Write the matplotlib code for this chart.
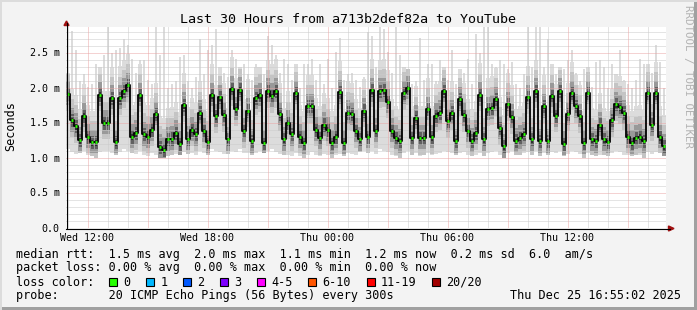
import numpy as np
import matplotlib.pyplot as plt
from matplotlib.patches import Rectangle, Polygon
from matplotlib.lines import Line2D

W, H = 697, 310

# median rtt in ms, one value per 12 min slot, Wed 10:55 -> Thu 16:55
median_ms = [
    1.91, 1.53, 1.45, 1.25, 1.60, 1.30, 1.22, 1.22, 1.90, 1.50,
    1.50, 1.85, 1.22, 1.85, 1.95, 2.03, 1.30, 1.35, 1.89, 1.33,
    1.30, 1.40, 1.62, 1.15, 1.11, 1.26, 1.27, 1.35, 1.20, 1.75,
    1.27, 1.40, 1.33, 1.64, 1.38, 1.22, 1.89, 1.59, 1.86, 1.61,
    1.26, 1.98, 1.69, 1.97, 1.38, 1.67, 1.23, 1.85, 1.89, 1.21,
    1.95, 1.88, 1.95, 1.62, 1.26, 1.50, 1.33, 1.92, 1.30, 1.21,
    1.73, 1.73, 1.40, 1.28, 1.47, 1.40, 1.21, 1.30, 1.93, 1.21,
    1.64, 1.62, 1.38, 1.26, 1.67, 1.30, 1.96, 1.38, 1.95, 1.96,
    1.80, 1.38, 1.28, 1.23, 1.92, 1.99, 1.28, 1.57, 1.28, 1.28,
    1.69, 1.29, 1.60, 1.64, 1.95, 1.52, 1.64, 1.23, 1.83, 1.61,
    1.38, 1.24, 1.35, 1.90, 1.26, 1.69, 1.71, 1.83, 1.42, 1.16,
    1.76, 1.58, 1.24, 1.28, 1.33, 1.86, 1.26, 1.95, 1.23, 1.73,
    1.23, 1.88, 1.60, 1.95, 1.20, 1.62, 1.92, 1.73, 1.59, 1.21,
    1.92, 1.26, 1.23, 1.47, 1.26, 1.22, 1.53, 1.76, 1.72, 1.64,
    1.30, 1.21, 1.28, 1.30, 1.23, 1.92, 1.47, 1.92, 1.29, 1.16,
]

# slowest ping of each slot (top of the smoke)
smoke_top_ms = [
    2.20, 2.81, 2.54, 2.10, 2.20, 2.00, 2.05, 2.33, 2.30, 2.47,
    2.86, 2.50, 2.54, 2.56, 2.69, 2.61, 2.40, 2.20, 2.40, 2.40,
    2.10, 2.05, 2.86, 2.47, 2.86, 2.00, 2.05, 2.10, 2.43, 2.47,
    2.10, 2.00, 2.15, 2.69, 2.20, 2.54, 2.61, 2.83, 2.30, 2.20,
    2.15, 2.54, 2.40, 2.30, 2.33, 2.20, 2.10, 2.33, 2.30, 2.20,
    2.74, 2.61, 2.47, 2.20, 2.40, 2.33, 2.10, 2.33, 2.00, 2.33,
    2.33, 2.40, 2.10, 2.33, 2.05, 2.40, 2.00, 2.51, 2.71, 2.10,
    2.20, 2.20, 2.10, 2.00, 2.15, 2.79, 2.73, 2.30, 2.86, 2.83,
    2.50, 2.20, 2.86, 2.47, 2.30, 2.26, 2.05, 2.10, 2.71, 2.10,
    2.33, 2.33, 2.10, 2.40, 2.30, 2.10, 2.54, 2.05, 2.26, 2.20,
    2.40, 2.05, 2.76, 2.50, 2.86, 2.86, 2.33, 2.30, 2.40, 2.33,
    2.26, 2.37, 2.05, 2.00, 2.20, 2.86, 2.30, 2.86, 2.86, 2.30,
    2.69, 2.33, 2.20, 2.30, 2.26, 2.40, 2.54, 2.20, 2.10, 2.26,
    2.30, 2.00, 2.37, 2.40, 2.29, 2.00, 2.33, 2.20, 2.54, 2.10,
    2.05, 2.00, 2.10, 2.40, 2.33, 2.33, 2.20, 2.61, 2.37, 2.00,
]

# fastest ping of each slot (bottom of the smoke)
smoke_bot_ms = [
    1.12, 1.08, 1.05, 1.06, 1.10, 1.04, 1.02, 1.00, 1.08, 1.10,
    1.10, 1.06, 1.03, 1.08, 1.12, 1.10, 1.07, 1.05, 1.10, 1.04,
    1.02, 1.06, 1.04, 1.00, 1.00, 1.02, 1.04, 1.05, 1.04, 1.08,
    1.05, 1.06, 1.04, 1.10, 1.06, 1.04, 1.12, 1.10, 1.08, 1.05,
    1.05, 1.10, 1.08, 1.12, 1.07, 1.06, 1.03, 1.06, 1.10, 1.06,
    1.10, 1.12, 1.08, 1.05, 1.03, 1.04, 1.02, 1.06, 1.02, 1.00,
    1.04, 1.08, 1.03, 1.02, 1.05, 1.03, 1.00, 1.03, 1.05, 1.02,
    1.06, 1.05, 1.04, 1.08, 1.10, 1.06, 1.10, 1.05, 1.12, 1.10,
    1.08, 1.04, 1.02, 1.00, 1.06, 1.10, 1.04, 1.06, 1.02, 1.04,
    1.06, 1.04, 1.05, 1.06, 1.10, 1.08, 1.07, 1.04, 1.06, 1.08,
    1.03, 1.02, 1.04, 1.07, 1.02, 1.06, 1.08, 1.10, 1.04, 1.00,
    1.06, 1.10, 1.04, 1.03, 1.06, 1.08, 1.04, 1.10, 1.02, 1.06,
    1.03, 1.08, 1.06, 1.10, 1.02, 1.05, 1.10, 1.08, 1.05, 1.00,
    1.06, 1.04, 1.02, 1.04, 1.04, 1.02, 1.06, 1.10, 1.08, 1.04,
    1.03, 1.02, 1.04, 1.03, 1.00, 1.08, 1.05, 1.08, 1.06, 1.02,
]

x_tick_labels = ["Wed 12:00", "Wed 18:00", "Thu 00:00", "Thu 06:00", "Thu 12:00"]
y_ticks = [0.0, 0.5, 1.0, 1.5, 2.0, 2.5]
y_tick_labels = ["0.0", "0.5 m", "1.0 m", "1.5 m", "2.0 m", "2.5 m"]

loss_labels = ["0", "1", "2", "3", "4-5", "6-10", "11-19", "20/20"]
loss_colors = ["#26ff00", "#00b8ff", "#0059ff", "#7e00ff",
               "#ff00ff", "#ff5500", "#ff0000", "#a10000"]

legend_rows = [
    "median rtt:  1.5 ms avg  2.0 ms max  1.1 ms min  1.2 ms now  0.2 ms sd  6.0  am/s",
    "packet loss: 0.00 % avg  0.00 % max  0.00 % min  0.00 % now",
    "loss color:",
    "probe:       20 ICMP Echo Pings (56 Bytes) every 300s",
]
stamp = "Thu Dec 25 16:55:02 2025"

MONO = "DejaVu Sans Mono"
BG = "#f3f3f3"


def fx(x):
    return x / W


def fy(y):
    return 1 - y / H


med = np.array(median_ms)
top = np.array(smoke_top_ms)
bot = np.array(smoke_bot_ms)
t = 0.1 + 0.2 * np.arange(len(med))   # hours since start of window

fig = plt.figure(figsize=(W / 100, H / 100), dpi=100, facecolor=BG)
ax = fig.add_axes([fx(66), fy(228), 600 / W, 201 / H])
ax.set_facecolor("white")
ax.set_xlim(0, 30)
ax.set_ylim(-0.5 / 70, 200.5 / 70)   # half-pixel shift keeps grid dots crisp
for s in ax.spines.values():
    s.set_visible(False)

# smoke: thin outlier spikes, body, then darker shades around the median
ax.bar(t, top - bot, bottom=bot, width=0.11, color="#dcdcdc", lw=0, zorder=1)
body = np.minimum(top, med + 0.45)
ax.bar(t, body - bot, bottom=bot, width=0.2, color="#dcdcdc", lw=0, zorder=1)
shades = [(0.30, 0.24, "#c4c4c4", 0.2), (0.18, 0.16, "#999999", 0.17),
          (0.09, 0.10, "#606060", 0.15), (0.03, 0.05, "#303030", 0.13)]
for up, down, c, w in shades:
    hi_ = np.minimum(top, med + up)
    lo_ = np.maximum(bot, med - down)
    ax.bar(t, hi_ - lo_, bottom=lo_, width=w, color=c, lw=0, zorder=1.1)

# grid (drawn over the smoke like rrdtool does)
dots = (0, (1, 1))
off = 0.075
for k in range(30):
    if (k - 1) % 3 == 0:
        continue
    ax.axvline(k + off, color="#cbcbcb", lw=0.72, ls=dots, zorder=2)
for k in range(1, 29):
    if k % 5 == 0:
        continue
    ax.axhline(k / 10, color="#cbcbcb", lw=0.72, ls=dots, zorder=2)
for k in range(1, 30, 3):
    ax.axvline(k + off, color="#eaa6a6", lw=0.72, ls=dots, zorder=2)
for v in y_ticks[1:]:
    ax.axhline(v, color="#eaa6a6", lw=0.72, ls=dots, zorder=2)

# median: black step connectors + green level marks
ax.step(t, med, where="mid", color="black", lw=1.3, zorder=3)
ax.hlines(med, t - 0.065, t + 0.065, color="#26ff00", lw=2.0, zorder=4)

# ticks and labels
ax.set_xticks(np.arange(1, 30, 6) + off, x_tick_labels)
ax.set_yticks(y_ticks, y_tick_labels)
ax.tick_params(axis="both", length=0, labelsize=7.2, colors="black")
ax.tick_params(axis="x", pad=3.5)
ax.tick_params(axis="y", pad=4.5)
for lab in ax.get_xticklabels() + ax.get_yticklabels():
    lab.set_family(MONO)

# axes lines and arrows
fig.add_artist(Line2D([fx(66.5), fx(66.5)], [fy(228), fy(23)], color="black", lw=0.8))
fig.add_artist(Line2D([fx(66), fx(670)], [fy(228.5), fy(228.5)], color="black", lw=0.8))
fig.add_artist(Polygon([(fx(64), fy(25.5)), (fx(69), fy(25.5)), (fx(66.5), fy(21))],
                       closed=True, transform=fig.transFigure, color="#a01010"))
fig.add_artist(Polygon([(fx(668.5), fy(226)), (fx(668.5), fy(231)), (fx(674), fy(228.5))],
                       closed=True, transform=fig.transFigure, color="#a01010"))

# titles
fig.text(fx(347.5), fy(19.5), "Last 30 Hours from a713b2def82a to YouTube",
         ha="center", va="center", family=MONO, fontsize=9.6)
fig.text(fx(11), fy(126), "Seconds", rotation=90, ha="center", va="center",
         family=MONO, fontsize=8.5)
fig.text(fx(688), fy(5), "RRDTOOL / TOBI OETIKER", rotation=270, ha="center",
         va="top", family=MONO, fontsize=7.8, color="#b3b3b3")

# legend block
row_y = [254.5, 268, 282, 295.5]
for s, y in zip(legend_rows, row_y):
    fig.text(fx(16), fy(y), s, ha="left", va="center", family=MONO, fontsize=8.5)
fig.text(fx(681), fy(row_y[3]), stamp, ha="right", va="center", family=MONO, fontsize=8.5)

sq_x = 109.0
for lab, c in zip(loss_labels, loss_colors):
    fig.add_artist(Rectangle((fx(sq_x), fy(row_y[2] + 4)), 8 / W, 8 / H,
                             transform=fig.transFigure, facecolor=c,
                             edgecolor="black", lw=0.8))
    fig.text(fx(sq_x + 14.5), fy(row_y[2]), lab, ha="left", va="center",
             family=MONO, fontsize=8.5)
    sq_x += 37 + (len(lab) - 1) * 7.1

# 3d frame
fig.add_artist(Rectangle((0, 0), 1, 3 / H, transform=fig.transFigure, color="#a0a0a0", lw=0))
fig.add_artist(Rectangle((1 - 3 / W, 0), 3 / W, 1, transform=fig.transFigure, color="#a0a0a0", lw=0))
fig.add_artist(Rectangle((0, 1 - 2 / H), 1, 2 / H, transform=fig.transFigure, color="#dcdcdc", lw=0))
fig.add_artist(Rectangle((0, 0), 2 / W, 1, transform=fig.transFigure, color="#dcdcdc", lw=0))

fig.savefig("out.png", dpi=100, facecolor=BG)
